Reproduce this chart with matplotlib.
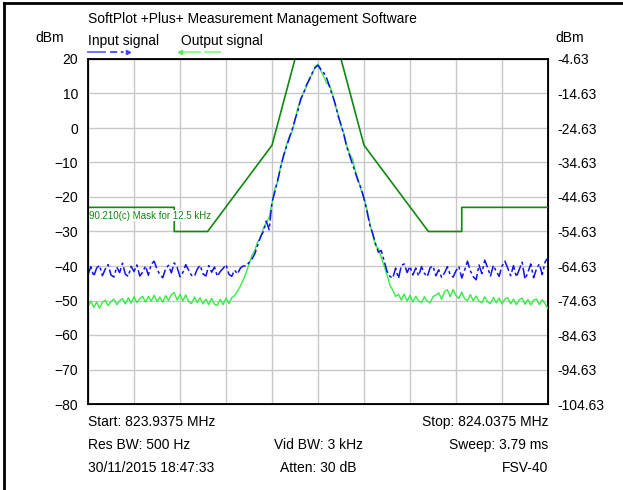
import numpy as np
import matplotlib
matplotlib.use("Agg")
import matplotlib.pyplot as plt
from matplotlib.lines import Line2D

plt.rcParams['font.family'] = ['Liberation Sans', 'DejaVu Sans']

# sweep: 823.9375 .. 824.0375 MHz, offsets in kHz from centre
freq_khz = np.linspace(-50, 50, 161)

input_left = [-42.5, -40.2, -43.0, -40.6, -39.8, -42.8, -40.9, -39.6, -42.6, -43.2,
              -40.3, -41.9, -39.2, -42.4, -43.0, -40.1, -41.6, -39.7, -42.9, -41.8,
              -40.0, -42.7, -39.5, -38.6, -40.9, -42.5, -43.4, -40.8, -39.8, -42.0,
              -39.1, -40.4, -43.1, -41.9, -39.6, -41.2, -42.7, -43.0, -40.9, -39.8,
              -42.3, -42.9, -39.9, -41.8, -40.3, -43.0, -41.6, -40.7, -39.6, -42.4,
              -43.0, -41.2, -42.3, -40.6, -40.0]
input_mid = [-40.0, -39.0, -38.0, -36.5, -34.0, -31.5, -30.0, -27.0, -29.5, -21.5,
             -18.5, -15.0, -11.5, -8.0, -5.5, -3.0, -0.5, 2.5, 5.0, 8.5,
             10.0, 12.5, 14.0, 16.0, 17.5, 18.2, 17.0, 16.0, 14.5, 12.0,
             9.5, 7.0, 3.5, 1.0, -2.0, -5.5, -8.0, -10.5, -13.0, -15.5,
             -17.5, -20.5, -24.0, -28.0, -30.5, -33.5, -36.0, -35.5, -38.5, -41.5,
             -43.0]
input_right = [-43.5, -40.6, -43.6, -39.8, -39.4, -41.9, -40.1, -42.6, -40.6, -42.9,
               -40.2, -42.1, -43.1, -40.5, -40.0, -42.8, -41.1, -43.3, -42.0, -40.2,
               -42.6, -43.2, -41.4, -40.1, -43.5, -41.2, -38.6, -41.4, -43.1, -44.0,
               -39.7, -42.2, -38.3, -40.5, -42.9, -39.8, -41.6, -43.0, -40.0, -38.6,
               -40.6, -42.8, -39.9, -43.2, -41.0, -38.9, -43.8, -41.9, -39.4, -43.4,
               -40.8, -39.4, -42.5, -38.8, -37.6]

output_left = [-51.6, -50.2, -52.0, -50.5, -52.2, -50.6, -49.9, -51.5, -50.3, -49.6,
               -51.2, -50.1, -49.4, -51.0, -49.2, -50.8, -48.9, -50.6, -49.5, -48.8,
               -50.5, -48.8, -50.2, -48.5, -50.3, -49.0, -50.5, -48.6, -50.0, -48.3,
               -47.7, -49.9, -48.2, -50.1, -48.4, -50.3, -50.9, -49.0, -50.6, -49.2,
               -51.0, -49.6, -51.2, -49.4, -51.1, -51.4, -49.7, -51.2, -49.3, -50.9,
               -49.2, -48.6, -47.3, -45.8, -44.0]
output_mid = [-42.0, -39.5, -37.0, -35.5, -33.0, -32.0, -29.0, -27.5, -26.0, -22.0,
              -17.5, -15.5, -11.0, -8.5, -5.0, -2.5, -1.0, 2.0, 6.0, 8.0,
              10.5, 12.0, 14.5, 15.5, 17.8, 18.5, 16.5, 15.0, 13.0, 12.5,
              10.0, 6.5, 4.0, 0.5, -1.5, -5.0, -7.5, -9.0, -12.5, -15.0,
              -18.0, -20.0, -23.5, -27.5, -31.0, -34.0, -35.0, -37.5, -40.0, -42.5,
              -45.5]
output_right = [-47.0, -48.8, -48.2, -49.9, -48.1, -50.2, -48.5, -50.4, -48.8, -50.1,
                -50.6, -48.9, -50.2, -50.7, -48.9, -48.4, -47.8, -49.6, -47.4, -46.9,
                -48.9, -46.8, -48.6, -49.4, -47.6, -49.5, -50.0, -48.3, -50.1, -48.7,
                -50.2, -50.7, -48.9, -50.4, -50.9, -49.1, -50.7, -49.3, -51.0, -49.6,
                -49.2, -51.0, -49.6, -51.2, -49.8, -49.3, -51.1, -49.7, -51.3, -49.9,
                -49.6, -51.2, -49.8, -51.0, -52.4]

input_signal = input_left + input_mid + input_right
output_signal = output_left + output_mid + output_right

mask_khz = [-50, -31.25, -31.25, -24.0, -10, -5, 5, 10, 24.0, 31.25, 31.25, 50]
mask_dbm = [-23, -23, -30, -30, -5, 20, 20, -5, -30, -30, -23, -23]

left_ticks = [20, 10, 0, -10, -20, -30, -40, -50, -60, -70, -80]
ref_offset = -24.63

blue = "#1010f0"
green = "#33ee44"
mask_green = "#118811"

fig = plt.figure(figsize=(6.23, 4.90), dpi=100)
ax = fig.add_axes([88/623, 1-404/490, 460/623, 345/490])

ax.plot(mask_khz, mask_dbm, color=mask_green, lw=1.2, zorder=3)
ax.plot(freq_khz, output_signal, color=green, lw=1.0, zorder=4)
ax.plot(freq_khz, input_signal, color=blue, lw=1.1, ls=(0, (7, 2, 2, 2)), zorder=5)

ax.set_xlim(-50, 50)
ax.set_ylim(-80, 20)
ax.set_xticks(np.arange(-50, 51, 10))
ax.set_yticks(left_ticks)
ax.grid(True, color="#c8c8c8", lw=1)
ax.set_axisbelow(True)
ax.tick_params(axis="both", length=0, labelsize=10, pad=7)
ax.set_xticklabels([])
for s in ax.spines.values():
    s.set_linewidth(1.3)

ax2 = ax.twinx()
ax2.set_ylim(-80 + ref_offset, 20 + ref_offset)
ax2.set_yticks([t + ref_offset for t in left_ticks])
ax2.set_yticklabels(["%.2f" % (t + ref_offset) for t in left_ticks])
ax2.tick_params(axis="y", length=0, labelsize=10, pad=7)

# label just under the mask's top line
ax.text(-49.8, -25.4, "90.210(c) Mask for 12.5 kHz", color=mask_green,
        fontsize=7, va="center", ha="left", zorder=6,
        bbox=dict(facecolor="white", edgecolor="none", pad=0.3))

# header texts
fig.text(88/623, 1-19/490, "SoftPlot +Plus+ Measurement Management Software",
         fontsize=10, va="center", ha="left")
fig.text(88/623, 1-41/490, "Input signal", fontsize=10, va="center", ha="left")
fig.text(181/623, 1-41/490, "Output signal", fontsize=10, va="center", ha="left")
fig.text(64/623, 1-38/490, "dBm", fontsize=10, va="center", ha="right")
fig.text(555/623, 1-38/490, "dBm", fontsize=10, va="center", ha="left")

# legend samples
yl = 1-52/490
fig.add_artist(Line2D([88/623, 105/623], [yl, yl], color="#6666ff", lw=1.3))
fig.add_artist(Line2D([110/623, 128/623], [yl, yl], color="#4444ff", lw=1.3,
                      ls=(0, (4, 2, 1.5, 2))))
fig.add_artist(Line2D([128/623], [yl], color="#4444ff", marker=">", ms=3, lw=0))
fig.add_artist(Line2D([180/623, 200/623], [yl, yl], color="#88ff88", lw=1.3))
fig.add_artist(Line2D([180/623], [yl], color="#55ee55", marker="<", ms=3, lw=0))
fig.add_artist(Line2D([205/623, 220/623], [yl, yl], color="#88ff88", lw=1.3))

# footer texts
rows = [1-422/490, 1-445/490, 1-468/490]
fig.text(88/623, rows[0], "Start: 823.9375 MHz", fontsize=10, va="center", ha="left")
fig.text(548/623, rows[0], "Stop: 824.0375 MHz", fontsize=10, va="center", ha="right")
fig.text(88/623, rows[1], "Res BW: 500 Hz", fontsize=10, va="center", ha="left")
fig.text(318/623, rows[1], "Vid BW: 3 kHz", fontsize=10, va="center", ha="center")
fig.text(548/623, rows[1], "Sweep: 3.79 ms", fontsize=10, va="center", ha="right")
fig.text(88/623, rows[2], "30/11/2015 18:47:33", fontsize=10, va="center", ha="left")
fig.text(318/623, rows[2], "Atten: 30 dB", fontsize=10, va="center", ha="center")
fig.text(548/623, rows[2], "FSV-40", fontsize=10, va="center", ha="right")

# outer frame (left and top)
fig.add_artist(Line2D([4/623, 4/623], [0, 1-3/490], color="black", lw=2))
fig.add_artist(Line2D([4/623, 1], [1-3/490, 1-3/490], color="black", lw=2))

fig.savefig("out.png", dpi=100)
